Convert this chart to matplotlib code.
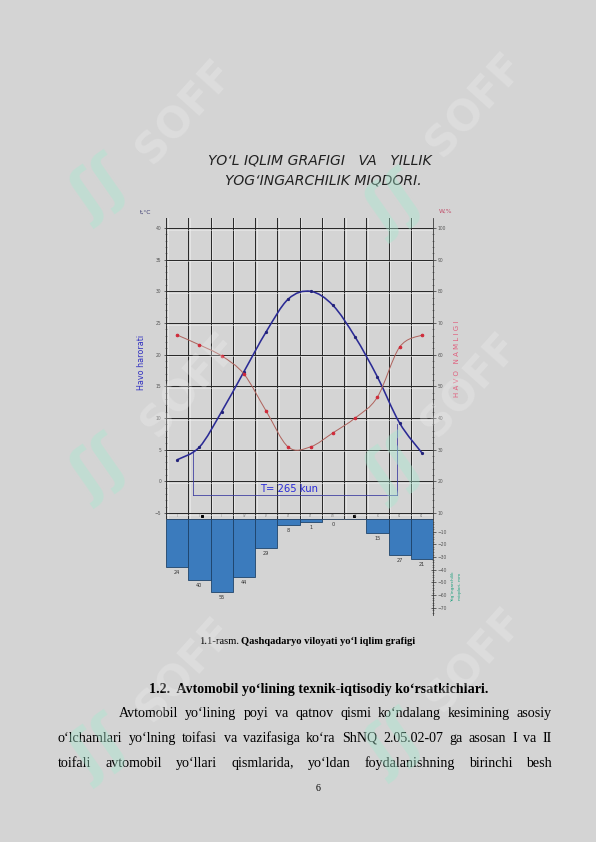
import matplotlib
matplotlib.use("Agg")
import matplotlib.pyplot as plt
import numpy as np
from matplotlib.path import Path
from matplotlib.patches import PathPatch

W, H = 596, 842
BG = "#d4d4d4"

# --- data ---
months = ["I", "II", "III", "IV", "V", "VI", "VII", "VIII", "IX", "X", "XI", "XII"]
temperature = [3.4, 5.4, 11.0, 17.3, 23.6, 28.8, 30.0, 27.8, 22.8, 16.5, 9.2, 4.5]  # t, C
humidity = [66.2, 63.1, 59.6, 53.9, 42.2, 30.8, 30.9, 35.3, 40.0, 46.6, 62.4, 66.2]  # W, %
precip_depth = [37.8, 48.0, 57.5, 45.7, 22.8, 4.7, 2.0, 0.0, 0.0, 11.0, 28.0, 31.5]  # bar depth, mm
precip_labels = ["24", "40", "55", "44", "29", "8", "1", "0", "", "15", "27", "21"]

temp_ticks = [-5, 0, 5, 10, 15, 20, 25, 30, 35, 40]
hum_ticks = [10, 20, 30, 40, 50, 60, 70, 80, 90, 100]
prec_ticks = [-70, -60, -50, -40, -30, -20, -10]

period_start, period_end = 1.21, 10.38   # months where t > 5 C
period_top = [5.0, 9.0]
period_label = "T= 265 kun"

title_lines = ["YO\u2018L IQLIM GRAFIGI   VA   YILLIK", "YOG\u2018INGARCHILIK MIQDORI."]
caption_a = "1.1-rasm."
caption_b = "Qashqadaryo viloyati yo\u2018l iqlim grafigi"
heading = "1.2.  Avtomobil yo\u2018lining texnik-iqtisodiy ko\u2018rsatkichlari."
para_lines = [
    "Avtomobil yo\u2018lining poyi va qatnov qismi ko\u2018ndalang kesimining asosiy",
    "o\u2018lchamlari yo\u2018lning toifasi va vazifasiga ko\u2018ra ShNQ 2.05.02-07 ga asosan I va II",
    "toifali avtomobil yo\u2018llari qismlarida, yo\u2018ldan foydalanishning birinchi besh",
]


def fx(x):
    return x / W


def fy(y):
    return 1 - y / H


def smooth_path(xs, ys):
    pts = np.column_stack([xs, ys]).astype(float)
    n = len(pts)
    verts = [pts[0]]
    codes = [Path.MOVETO]
    for i in range(n - 1):
        p0 = pts[max(i - 1, 0)]
        p1 = pts[i]
        p2 = pts[i + 1]
        p3 = pts[min(i + 2, n - 1)]
        verts += [p1 + (p2 - p0) / 6, p2 - (p3 - p1) / 6, p2]
        codes += [Path.CURVE4] * 3
    return Path(verts, codes)


fig = plt.figure(figsize=(W / 72, H / 72), dpi=72, facecolor=BG)

# ---------------- chart ----------------
main = fig.add_axes([fx(166), fy(519), 267 / W, 301 / H])
main.set_facecolor("none")
main.set_xlim(0, 12)
main.set_ylim(-5.95, 41.58)
for s in ["top", "right"]:
    main.spines[s].set_visible(False)
main.spines["bottom"].set_color("#b08a6a")
main.spines["bottom"].set_linewidth(0.8)
main.spines["left"].set_color("#333333")
main.set_xticks([])
main.set_yticks(temp_ticks)
main.set_yticks(np.arange(-5, 41, 1), minor=True)
main.tick_params(axis="y", which="major", direction="inout", length=5, width=0.7,
                 labelsize=4.5, labelcolor="#555555", pad=2, color="#333333")
main.tick_params(axis="y", which="minor", direction="inout", length=2.5, width=0.5, color="#444444")

# grid
for k in range(13):
    main.axvline(k, color="#2a2a2a", lw=1.0, zorder=1)
    main.axvline(k + 0.07, color="#efefef", lw=0.6, zorder=1)
for t in temp_ticks:
    main.axhline(t, color="#2a2a2a", lw=1.0, zorder=1)
    main.axhline(t - 0.25, color="#efefef", lw=0.5, zorder=1)

# month strip
centers = np.arange(12) + 0.5
for xc, m in zip(centers, months):
    main.text(xc, -5.5, m, fontsize=2.5, color="#666666", ha="center", va="center")
main.plot([1.6, 8.45], [-5.5, -5.5], ls="none", marker="s", ms=2, color="black")

# temperature
main.add_patch(PathPatch(smooth_path(centers, temperature), fill=False,
                         edgecolor="#2b2b95", lw=1.6, zorder=4))
main.plot(centers, temperature, ls="none", marker="o", ms=2.2, color="#22227a", zorder=5)

# period bracket
main.plot([period_start, period_start], [period_top[0], -2.2], color="#3a3aa0", lw=0.8, zorder=3)
main.plot([period_end, period_end], [period_top[1], -2.2], color="#3a3aa0", lw=0.8, zorder=3)
main.plot([period_start, period_end], [-2.2, -2.2], color="#3a3aa0", lw=0.8, zorder=3)
main.text(5.55, -1.15, period_label, fontsize=10, color="#2a2ad8", ha="center", va="center", zorder=6)

# humidity
hum = main.twinx()
hum.set_ylim(8.1, 103.16)
for s in ["top", "left", "bottom"]:
    hum.spines[s].set_visible(False)
hum.spines["right"].set_color("#333333")
hum.set_yticks(hum_ticks)
hum.set_yticks(np.arange(10, 101, 2), minor=True)
hum.tick_params(axis="y", which="major", direction="inout", length=5, width=0.7,
                labelsize=4.5, labelcolor="#555555", pad=2, color="#333333")
hum.tick_params(axis="y", which="minor", direction="inout", length=2.5, width=0.5, color="#444444")
hum.add_patch(PathPatch(smooth_path(centers, humidity), fill=False,
                        edgecolor="#b0645e", lw=1.0, zorder=4))
hum.plot(centers, humidity, ls="none", marker="o", ms=2.6, color="#d02838", zorder=5)

# precipitation
prec = fig.add_axes([fx(166), fy(615), 267 / W, 96 / H])
prec.set_facecolor("none")
prec.set_xlim(0, 12)
prec.set_ylim(-75.6, 0)
for s in ["top", "left", "bottom"]:
    prec.spines[s].set_visible(False)
prec.spines["right"].set_color("#333333")
prec.set_xticks([])
prec.yaxis.tick_right()
prec.set_yticks(prec_ticks)
prec.set_yticks(np.arange(-74, 0, 2), minor=True)
prec.tick_params(axis="y", which="major", direction="inout", length=5, width=0.7,
                 labelsize=4.5, labelcolor="#555555", pad=2, color="#333333")
prec.tick_params(axis="y", which="minor", direction="inout", length=2.5, width=0.5, color="#444444")
prec.bar(centers, [-d for d in precip_depth], width=1.0, color="#3b7bbd",
         edgecolor="#1b3f66", lw=0.8, zorder=2)
for xc, d, lab in zip(centers, precip_depth, precip_labels):
    prec.text(xc, -d - 2.5, lab, fontsize=5, color="#333333", ha="center", va="top")

# axis labels
fig.text(fx(146), fy(212), "t,\u00b0C", fontsize=6, color="#3a3a70", ha="center", va="center")
fig.text(fx(446), fy(211), "W,%", fontsize=6, color="#c04a66", ha="center", va="center")
fig.text(fx(141), fy(362), "Havo harorati", fontsize=8, color="#3030c0", rotation=90,
         ha="center", va="center")
fig.text(fx(457), fy(359), "H A V O   N A M L I G I", fontsize=7, color="#e0607e", rotation=90,
         ha="center", va="center")
fig.text(fx(453), fy(586), "Yog\u2018ingarchilik", fontsize=4.2, color="#1fa07e", rotation=90,
         ha="center", va="center")
fig.text(fx(460), fy(586), "miqdori, mm", fontsize=4.2, color="#1fa07e", rotation=90,
         ha="center", va="center")

# title
fig.text(fx(320), fy(160), title_lines[0], fontsize=14, style="italic", color="#222222",
         ha="center", va="center")
fig.text(fx(323), fy(180), title_lines[1], fontsize=14, style="italic", color="#222222",
         ha="center", va="center")

# ---------------- page text ----------------
fig.canvas.draw()
renderer = fig.canvas.get_renderer()
serif = "Liberation Serif"


def width_of(s, **kw):
    t = fig.text(0, 0, s, **kw)
    w = t.get_window_extent(renderer).width
    t.remove()
    return w


cap_kw = dict(fontsize=10.5, family=serif)
wa = width_of(caption_a + " ", **cap_kw)
wb = width_of(caption_b, fontweight="bold", **cap_kw)
cx0 = 307 - (wa + wb) / 2
fig.text(fx(cx0), fy(644.5), caption_a, va="baseline", **cap_kw)
fig.text(fx(cx0 + wa), fy(644.5), caption_b, va="baseline", fontweight="bold", **cap_kw)

fig.text(fx(319), fy(693), heading, fontsize=14, fontweight="bold", family=serif,
         ha="center", va="baseline")


def justify(line, x0, x1, ybase, size=14):
    words = line.split()
    widths = [width_of(w_, fontsize=size, family=serif) for w_ in words]
    gap = (x1 - x0 - sum(widths)) / (len(words) - 1)
    x = x0
    for w_, wd in zip(words, widths):
        fig.text(fx(x), fy(ybase), w_, fontsize=size, family=serif, va="baseline")
        x += wd + gap


justify(para_lines[0], 119, 552, 717)
justify(para_lines[1], 58, 552, 742)
justify(para_lines[2], 58, 552, 767)
fig.text(fx(318), fy(791), "6", fontsize=10, family=serif, ha="center", va="baseline")

# ---------------- watermarks ----------------
logos = [((100, 190), (185, 112)), ((395, 205), (475, 105)), ((100, 470), (190, 385)),
         ((395, 470), (470, 385)), ((100, 750), (185, 670)), ((395, 745), (475, 660))]
for (sx, sy), (tx, ty) in logos:
    fig.text(fx(sx), fy(sy), "\u0283\u0283", fontsize=62, color="#a6ead0", alpha=0.4,
             rotation=35, ha="center", va="center", fontweight="bold", zorder=20)
    fig.text(fx(tx), fy(ty), "SOFF", fontsize=42, color="#f2f2f2", alpha=0.28,
             rotation=48, ha="center", va="center", fontweight="bold", zorder=20)

fig.savefig("out.png", dpi=72, facecolor=BG)
